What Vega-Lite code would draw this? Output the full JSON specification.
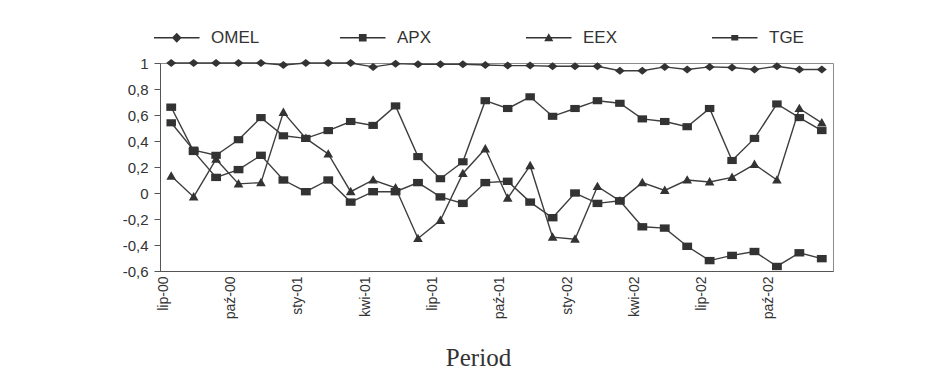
{
  "$schema": "https://vega.github.io/schema/vega-lite/v6.json",
  "width": 673,
  "height": 208,
  "autosize": "none",
  "padding": {"left": 160, "top": 63, "right": 92, "bottom": 111},
  "background": "white",
  "config": {
    "view": {"stroke": "#8c8c8c", "strokeWidth": 1},
    "font": "Liberation Sans"
  },
  "data": {
    "values": [
      {"month": "lip-00", "OMEL": 1.0, "APX": 0.66, "EEX": 0.13, "TGE": 0.54},
      {"month": "sie-00", "OMEL": 1.0, "APX": 0.32, "EEX": -0.03, "TGE": 0.33},
      {"month": "wrz-00", "OMEL": 1.0, "APX": 0.12, "EEX": 0.26, "TGE": 0.29},
      {"month": "paź-00", "OMEL": 1.0, "APX": 0.18, "EEX": 0.07, "TGE": 0.41},
      {"month": "lis-00", "OMEL": 1.0, "APX": 0.29, "EEX": 0.08, "TGE": 0.58},
      {"month": "gru-00", "OMEL": 0.985, "APX": 0.10, "EEX": 0.62, "TGE": 0.44},
      {"month": "sty-01", "OMEL": 1.0, "APX": 0.01, "EEX": 0.42, "TGE": 0.42},
      {"month": "lut-01", "OMEL": 1.0, "APX": 0.10, "EEX": 0.30, "TGE": 0.48},
      {"month": "mar-01", "OMEL": 1.0, "APX": -0.07, "EEX": 0.01, "TGE": 0.55},
      {"month": "kwi-01", "OMEL": 0.97, "APX": 0.01, "EEX": 0.10, "TGE": 0.52},
      {"month": "maj-01", "OMEL": 0.995, "APX": 0.01, "EEX": 0.04, "TGE": 0.67},
      {"month": "cze-01", "OMEL": 0.99, "APX": 0.08, "EEX": -0.35, "TGE": 0.28},
      {"month": "lip-01", "OMEL": 0.99, "APX": -0.03, "EEX": -0.21, "TGE": 0.11},
      {"month": "sie-01", "OMEL": 0.99, "APX": -0.08, "EEX": 0.15, "TGE": 0.24},
      {"month": "wrz-01", "OMEL": 0.985, "APX": 0.08, "EEX": 0.34, "TGE": 0.71},
      {"month": "paź-01", "OMEL": 0.98, "APX": 0.09, "EEX": -0.04, "TGE": 0.65},
      {"month": "lis-01", "OMEL": 0.98, "APX": -0.07, "EEX": 0.21, "TGE": 0.74},
      {"month": "gru-01", "OMEL": 0.975, "APX": -0.19, "EEX": -0.34, "TGE": 0.59},
      {"month": "sty-02", "OMEL": 0.975, "APX": 0.0, "EEX": -0.355, "TGE": 0.65},
      {"month": "lut-02", "OMEL": 0.975, "APX": -0.08, "EEX": 0.05, "TGE": 0.71},
      {"month": "mar-02", "OMEL": 0.94, "APX": -0.06, "EEX": -0.06, "TGE": 0.69},
      {"month": "kwi-02", "OMEL": 0.94, "APX": -0.26, "EEX": 0.08, "TGE": 0.57},
      {"month": "maj-02", "OMEL": 0.97, "APX": -0.27, "EEX": 0.02, "TGE": 0.55},
      {"month": "cze-02", "OMEL": 0.95, "APX": -0.41, "EEX": 0.10, "TGE": 0.51},
      {"month": "lip-02", "OMEL": 0.97, "APX": -0.52, "EEX": 0.085, "TGE": 0.65},
      {"month": "sie-02", "OMEL": 0.965, "APX": -0.48, "EEX": 0.12, "TGE": 0.25},
      {"month": "wrz-02", "OMEL": 0.95, "APX": -0.45, "EEX": 0.22, "TGE": 0.42},
      {"month": "paź-02", "OMEL": 0.975, "APX": -0.565, "EEX": 0.10, "TGE": 0.685},
      {"month": "lis-02", "OMEL": 0.95, "APX": -0.46, "EEX": 0.65, "TGE": 0.58},
      {"month": "gru-02", "OMEL": 0.95, "APX": -0.505, "EEX": 0.54, "TGE": 0.48}
    ]
  },
  "transform": [
    {"fold": ["OMEL", "APX", "EEX", "TGE"], "as": ["series", "value"]}
  ],
  "encoding": {
    "x": {
      "field": "month",
      "type": "ordinal",
      "sort": null,
      "scale": {"type": "point", "padding": 0.5},
      "axis": {
        "values": ["lip-00", "paź-00", "sty-01", "kwi-01", "lip-01", "paź-01", "sty-02", "kwi-02", "lip-02", "paź-02"],
        "labelAngle": 270,
        "labelOffset": -8,
        "labelPadding": 5,
        "labelFontSize": 14,
        "labelColor": "#333",
        "ticks": false,
        "domainColor": "#555",
        "title": "Period",
        "titleFont": "Liberation Serif",
        "titleFontSize": 25,
        "titleFontWeight": "normal",
        "titleColor": "#333",
        "titleBaseline": "alphabetic",
        "titleAlign": "center",
        "titleX": 318,
        "titleY": 94
      }
    },
    "y": {
      "field": "value",
      "type": "quantitative",
      "scale": {"domain": [-0.6, 1], "nice": false, "zero": false},
      "axis": {
        "values": [-0.6, -0.4, -0.2, 0, 0.2, 0.4, 0.6, 0.8, 1],
        "format": "~g",
        "labelExpr": "replace(replace(datum.label, '.', ','), '−', '-')",
        "labelFontSize": 15,
        "labelColor": "#333",
        "labelPadding": 6,
        "tickSize": 6,
        "tickColor": "#555",
        "domainColor": "#555",
        "grid": false,
        "title": null
      }
    }
  },
  "layer": [
    {
      "mark": {"type": "line", "color": "#3d3d3d", "strokeWidth": 1.4},
      "encoding": {"detail": {"field": "series"}}
    },
    {
      "mark": {"type": "point", "filled": true, "color": "#333", "opacity": 1},
      "encoding": {
        "shape": {
          "field": "series",
          "scale": {
            "domain": ["OMEL", "APX", "EEX", "TGE"],
            "range": [
              "M-1,0L0,-0.8L1,0L0,0.8Z",
              "M-1,-0.75H1V0.75H-1Z",
              "M0,-1L1,0.75L-1,0.75Z",
              "M-1,-0.75H1V0.75H-1Z"
            ]
          },
          "legend": null
        },
        "size": {
          "field": "series",
          "type": "nominal",
          "scale": {"domain": ["OMEL", "APX", "EEX", "TGE"], "range": [100, 90, 64, 64]},
          "legend": null
        }
      }
    },
    {
      "transform": [{"filter": "false"}],
      "mark": {"type": "point", "filled": true, "color": "#333", "opacity": 1},
      "encoding": {
        "x": null,
        "y": null,
        "shape": {
          "field": "series",
          "scale": {
            "domain": ["OMEL", "APX", "EEX", "TGE"],
            "range": [
              "M-1,-0.18H12V0.18H-1ZM5.5,-1.4L6.9,0L5.5,1.4L4.1,0Z",
              "M-1,-0.18H12V0.18H-1ZM4.4,-1.1H6.6V1.1H4.4Z",
              "M-1,-0.18H12V0.18H-1ZM5.5,-1.3L6.8,1L4.2,1Z",
              "M-1,-0.18H12V0.18H-1ZM4.5,-0.8H6.5V0.8H4.5Z"
            ]
          },
          "legend": {
            "title": null,
            "orient": "none",
            "direction": "horizontal",
            "legendX": -11,
            "legendY": -34,
            "padding": 0,
            "symbolSize": 49,
            "symbolFillColor": "#333",
            "symbolStrokeColor": "#333",
            "symbolOpacity": 1,
            "labelOffset": 45,
            "labelFontSize": 17,
            "labelColor": "#333",
            "gridAlign": "all",
            "columnPadding": 75
          }
        }
      }
    }
  ],
  "resolve": {"scale": {"shape": "independent", "size": "independent"}}
}
